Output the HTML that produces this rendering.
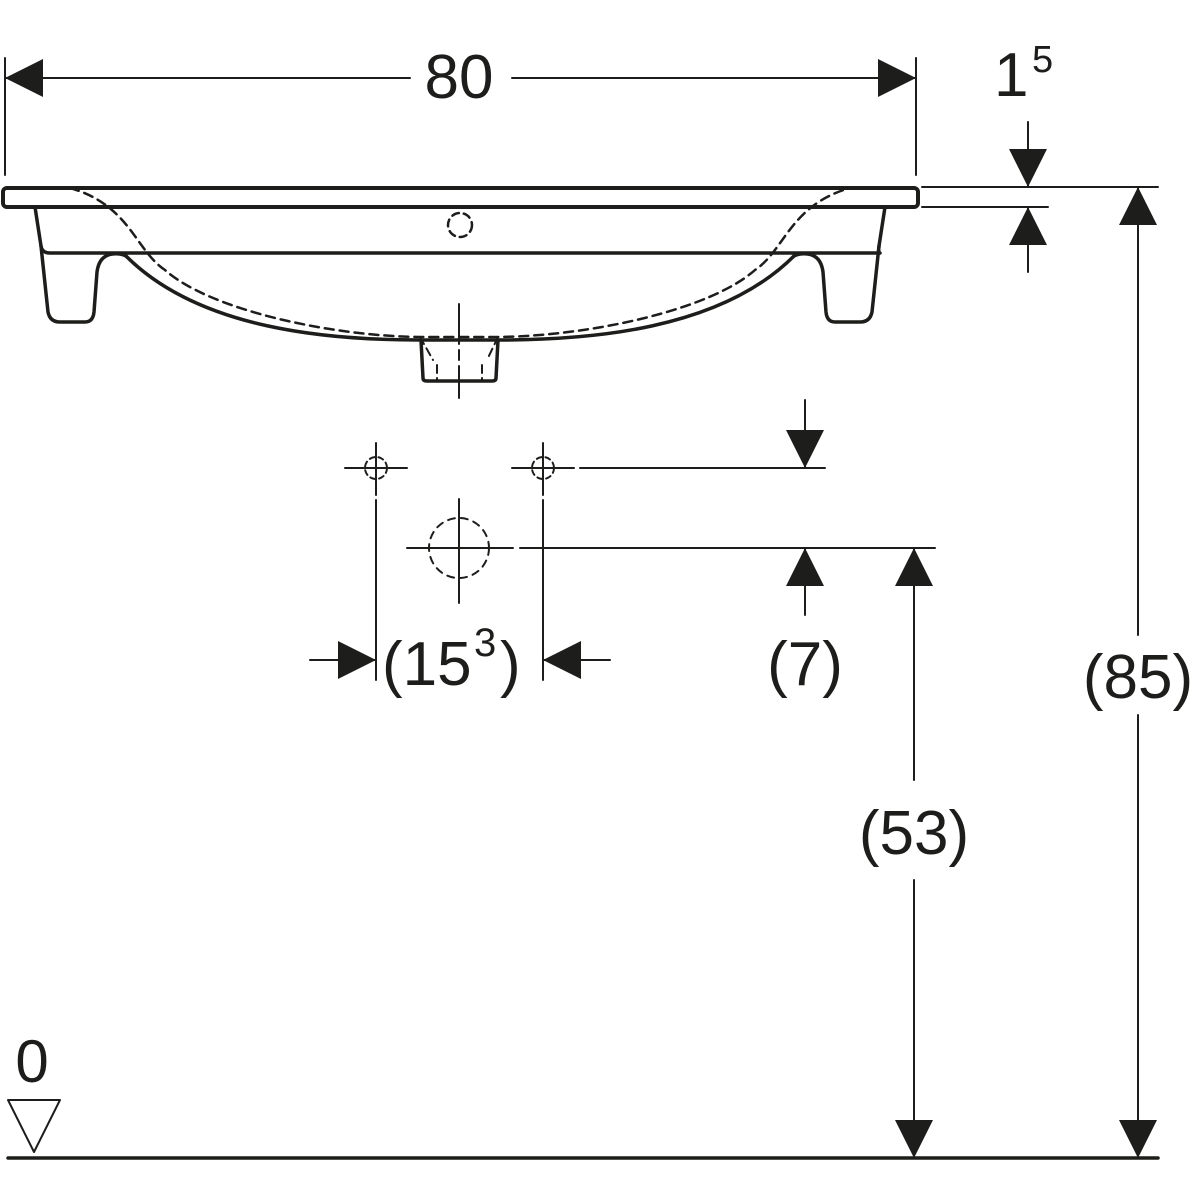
<!DOCTYPE html>
<html><head><meta charset="utf-8"><style>
html,body{margin:0;padding:0;background:#fff;}
svg{display:block}
text{font-family:"Liberation Sans",sans-serif;fill:#1d1d1b}
</style></head><body>
<svg width="1200" height="1200" viewBox="0 0 1200 1200" xmlns="http://www.w3.org/2000/svg">
<defs>
<g id="ah"><polygon points="0,0 -19,-38 19,-38" fill="#1d1d1b"/></g>
</defs>
<g stroke="#1d1d1b" fill="none" stroke-linecap="round" stroke-linejoin="round">
<rect x="3" y="188" width="915" height="19" rx="4" stroke-width="4"/>
<path d="M35,207 L41,246 Q42,253 50,253 L880,253 Q878,253 879,246 L885,207" stroke-width="3.5"/>
<path d="M41,246 L48,312 Q50,322 60,322 L85,322 Q93,322 94,312 L97,272 Q99,256 112,254 Q120,253 126,256" stroke-width="3.5"/>
<path d="M879,246 L872,312 Q870,322 860,322 L835,322 Q827,322 826,312 L823,272 Q821,256 808,254 Q800,253 794,256" stroke-width="3.5"/>
<path d="M126,256 C200,330 330,340 420,340 L498,340 C590,340 720,330 794,256" stroke-width="3.5"/>
<path d="M421,340 L423,378 Q423,381 427,381 L492,381 Q496,381 496,378 L498,340" stroke-width="3.5"/>
<path d="M70,188 C130,205 135,250 165,270 C210,310 330,336 420,337 L498,337 C590,336 710,310 755,270 C785,250 790,205 850,188" stroke-width="2.5" stroke-dasharray="9,6"/>
<path d="M420,337 L433,360 M498,337 L487,360 M437,365 L437,381 M482,365 L482,381" stroke-width="2" stroke-dasharray="8,5"/>
<circle cx="460" cy="225" r="12" stroke-width="2.5" stroke-dasharray="7,5"/>
<line x1="459" y1="304" x2="459" y2="398" stroke-width="2" stroke-dasharray="40,6,10,6"/>
<g stroke-width="2">
<line x1="5" y1="58" x2="5" y2="175"/>
<line x1="916" y1="58" x2="916" y2="175"/>
<line x1="5" y1="78" x2="410" y2="78"/>
<line x1="512" y1="78" x2="916" y2="78"/>
<line x1="922" y1="187" x2="1158" y2="187"/>
<line x1="922" y1="207" x2="1048" y2="207"/>
<line x1="1028" y1="122" x2="1028" y2="187"/>
<line x1="1028" y1="207" x2="1028" y2="272"/>
<line x1="1138" y1="187" x2="1138" y2="635"/>
<line x1="1138" y1="715" x2="1138" y2="1158"/>
<line x1="914" y1="548" x2="914" y2="780"/>
<line x1="914" y1="880" x2="914" y2="1158"/>
<line x1="520" y1="548" x2="935" y2="548"/>
<line x1="580" y1="468" x2="825" y2="468"/>
<line x1="805" y1="400" x2="805" y2="468"/>
<line x1="805" y1="548" x2="805" y2="615"/>
<line x1="376" y1="500" x2="376" y2="680"/>
<line x1="543" y1="500" x2="543" y2="680"/>
<line x1="310" y1="660" x2="376" y2="660"/>
<line x1="543" y1="660" x2="610" y2="660"/>
<line x1="376" y1="443" x2="376" y2="495"/><line x1="345" y1="468" x2="407" y2="468"/>
<line x1="543" y1="443" x2="543" y2="495"/><line x1="512" y1="468" x2="574" y2="468"/>
<line x1="459" y1="499" x2="459" y2="603"/><line x1="407" y1="548" x2="513" y2="548"/>
</g>
<circle cx="376" cy="468" r="11" stroke-width="2" stroke-dasharray="5,4"/>
<circle cx="543" cy="468" r="11" stroke-width="2" stroke-dasharray="5,4"/>
<circle cx="459" cy="548" r="30" stroke-width="2" stroke-dasharray="7,6"/>
<line x1="8" y1="1158" x2="1158" y2="1158" stroke-width="3.5"/>
<polygon points="8,1100 60,1100 34,1152" stroke-width="2"/>
</g>
<use href="#ah" transform="translate(5,78) rotate(90)"/>
<use href="#ah" transform="translate(916,78) rotate(-90)"/>
<use href="#ah" transform="translate(1028,187)"/>
<use href="#ah" transform="translate(1028,207) rotate(180)"/>
<use href="#ah" transform="translate(1138,187) rotate(180)"/>
<use href="#ah" transform="translate(1138,1158)"/>
<use href="#ah" transform="translate(914,548) rotate(180)"/>
<use href="#ah" transform="translate(914,1158)"/>
<use href="#ah" transform="translate(805,468)"/>
<use href="#ah" transform="translate(805,548) rotate(180)"/>
<use href="#ah" transform="translate(376,660) rotate(-90)"/>
<use href="#ah" transform="translate(543,660) rotate(90)"/>
<text x="459" y="98" font-size="62" text-anchor="middle">80</text>
<text x="994" y="96" font-size="62">1</text>
<text x="1032" y="72" font-size="38">5</text>
<text x="1138" y="698" font-size="62" text-anchor="middle">(85)</text>
<text x="914" y="854" font-size="62" text-anchor="middle">(53)</text>
<text x="805" y="685" font-size="62" text-anchor="middle">(7)</text>
<text x="382" y="685" font-size="62">(15</text>
<text x="474" y="656" font-size="40">3</text>
<text x="500" y="685" font-size="62">)</text>
<text x="32" y="1082" font-size="60" text-anchor="middle">0</text>
</svg>
</body></html>
